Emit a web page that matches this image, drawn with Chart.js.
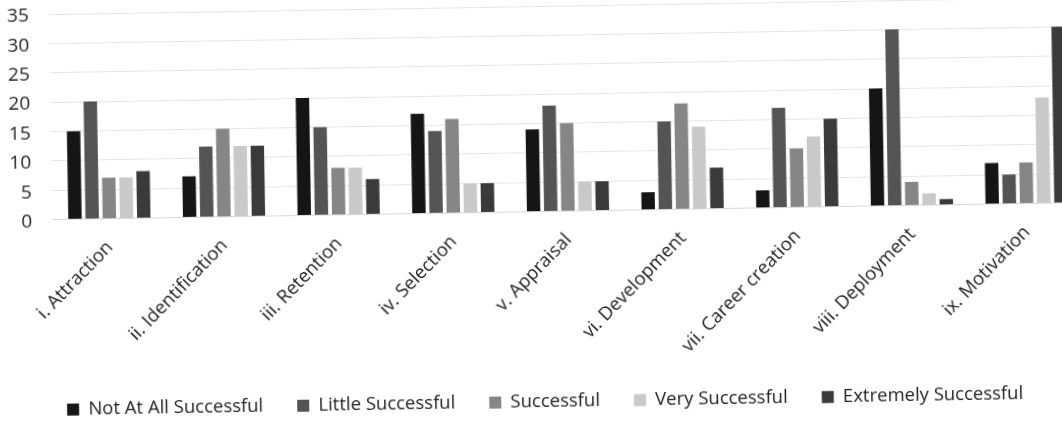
<!DOCTYPE html>
<html>
<head>
<meta charset="utf-8">
<script src="https://cdn.jsdelivr.net/npm/chart.js@4"></script>
<style>
  html, body { margin: 0; padding: 0; background: #fff; overflow: hidden; }
  #wrap {
    position: absolute; left: 0; top: -20px;
    width: 1084px; height: 441px;
    transform-origin: 542px 230px; transform: rotate(-0.95deg);
  }
  canvas { display: block; }
</style>
</head>
<body>
<div id="wrap"><canvas id="c" width="1084" height="441"></canvas></div>
<script>
// HR practice areas
const categories = [
  'i. Attraction', 'ii. Identification', 'iii. Retention', 'iv. Selection',
  'v. Appraisal', 'vi. Development', 'vii. Career creation',
  'viii. Deployment', 'ix. Motivation'
];

// Respondent counts per rating level
const notAtAllSuccessful   = [15,  7, 20, 17, 14,  3,  3, 20,  7];
const littleSuccessful     = [20, 12, 15, 14, 18, 15, 17, 30,  5];
const successful           = [ 7, 15,  8, 16, 15, 18, 10,  4,  7];
const verySuccessful       = [ 7, 12,  8,  5,  5, 14, 12,  2, 18];
const extremelySuccessful  = [ 8, 12,  6,  5,  5,  7, 15,  1, 30];

const yTicks = [0, 5, 10, 15, 20, 25, 30, 35];

const FONT = '"Open Sans", Lato, sans-serif';
const TEXT = '#1e1e1e';

new Chart(document.getElementById('c'), {
  type: 'bar',
  data: {
    labels: categories,
    datasets: [
      { label: 'Not At All Successful', data: notAtAllSuccessful,  backgroundColor: '#151515' },
      { label: 'Little Successful',     data: littleSuccessful,    backgroundColor: '#545454' },
      { label: 'Successful',            data: successful,          backgroundColor: '#868686' },
      { label: 'Very Successful',       data: verySuccessful,      backgroundColor: '#c9c9c9' },
      { label: 'Extremely Successful',  data: extremelySuccessful, backgroundColor: '#3a3a3a' }
    ]
  },
  options: {
    responsive: false,
    animation: false,
    devicePixelRatio: 1,
    datasets: { bar: { categoryPercentage: 0.75, barPercentage: 0.78 } },
    plugins: {
      tooltip: { enabled: false },
      legend: {
        position: 'bottom',
        labels: {
          font: { family: FONT, size: 18.5 },
          color: TEXT,
          boxWidth: 12,
          boxHeight: 12,
          padding: 34
        }
      }
    },
    scales: {
      x: {
        grid: { display: false },
        border: { color: '#d8d8d8' },
        ticks: {
          font: { family: FONT, size: 18.5 },
          color: TEXT,
          minRotation: 45,
          maxRotation: 45,
          padding: 10
        },
        afterFit: s => { s.height = 147; }
      },
      y: {
        min: 0,
        max: 35,
        afterBuildTicks: s => { s.ticks = yTicks.map(v => ({ value: v })); },
        grid: { color: '#e6e6e6', drawTicks: false },
        border: { display: false },
        ticks: {
          font: { family: FONT, size: 19 },
          color: TEXT,
          padding: 20,
          labelOffset: 2
        },
        afterFit: s => { s.width = 52; s.paddingTop = 26; s.paddingBottom = 0; }
      }
    }
  }
});
</script>
</body>
</html>
